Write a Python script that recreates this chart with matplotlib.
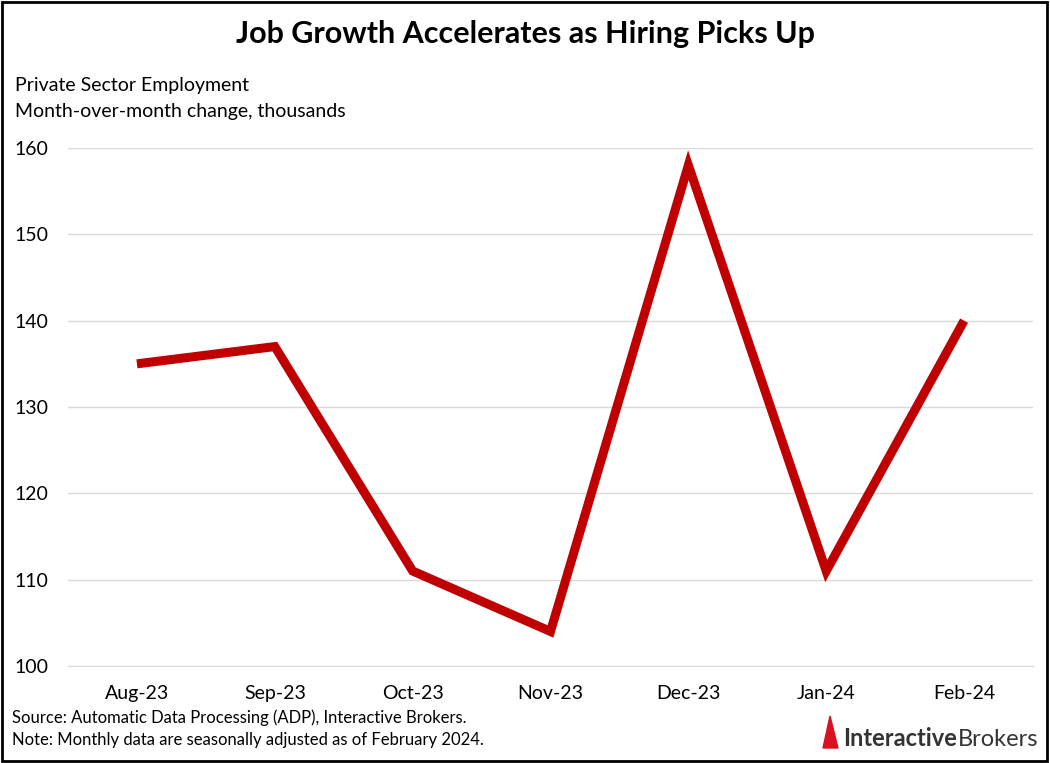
import matplotlib.pyplot as plt
from matplotlib.patches import Rectangle, Polygon

plt.rcParams["font.family"] = "Lato"

months = ["Aug-23", "Sep-23", "Oct-23", "Nov-23", "Dec-23", "Jan-24", "Feb-24"]
change = [135, 137, 111, 104, 158, 111, 140]
y_ticks = [100, 110, 120, 130, 140, 150, 160]

fig = plt.figure(figsize=(10.5, 7.63), dpi=100)
ax = fig.add_axes([68 / 1050, 1 - 666 / 763, 965 / 1050, (666 - 148) / 763])

x = range(len(months))
ax.plot(x, change, color="#C00000", lw=6.5, solid_capstyle="butt", solid_joinstyle="miter")
ax.set_xlim(-0.5, len(months) - 0.5)
ax.set_ylim(100, 160)
ax.set_yticks(y_ticks)
ax.set_xticks(list(x))
ax.set_xticklabels(months)
ax.tick_params(length=0, labelsize=14, pad=14)
ax.grid(axis="y", color="#D9D9D9", lw=1)
ax.set_axisbelow(True)
for s in ["top", "right", "left"]:
    ax.spines[s].set_visible(False)
ax.spines["bottom"].set_color("#D9D9D9")

fig.text(0.5, 0.955, "Job Growth Accelerates as Hiring Picks Up", ha="center", va="center",
         fontsize=22, fontweight="bold")
fig.text(15 / 1050, 1 - 85 / 763, "Private Sector Employment", fontsize=14, va="center")
fig.text(15 / 1050, 1 - 111 / 763, "Month-over-month change, thousands", fontsize=14, va="center")
fig.text(12 / 1050, 1 - 718 / 763, "Source: Automatic Data Processing (ADP), Interactive Brokers.",
         fontsize=12, va="center")
fig.text(12 / 1050, 1 - 740 / 763, "Note: Monthly data are seasonally adjusted as of February 2024.",
         fontsize=12, va="center")

# logo
fig.patches.append(Polygon([[823 / 1050, 1 - 748 / 763], [838 / 1050, 1 - 748 / 763],
                            [830 / 1050, 1 - 716 / 763]], closed=True,
                           transform=fig.transFigure, color="#D81222"))
t = fig.text(843 / 1050, 1 - 739 / 763, "Interactive", fontsize=17, fontweight="bold",
             color="#333333", va="center")
fig.canvas.draw()
bb = t.get_window_extent()
fig.text(bb.x1 / 1050 + 0.001, 1 - 739 / 763, "Brokers", fontsize=17, color="#333333", va="center")

fig.patches.append(Rectangle((0.002, 0.003), 0.995, 0.994, transform=fig.transFigure,
                             fill=False, ec="black", lw=2))
fig.savefig("out.png", dpi=100)
